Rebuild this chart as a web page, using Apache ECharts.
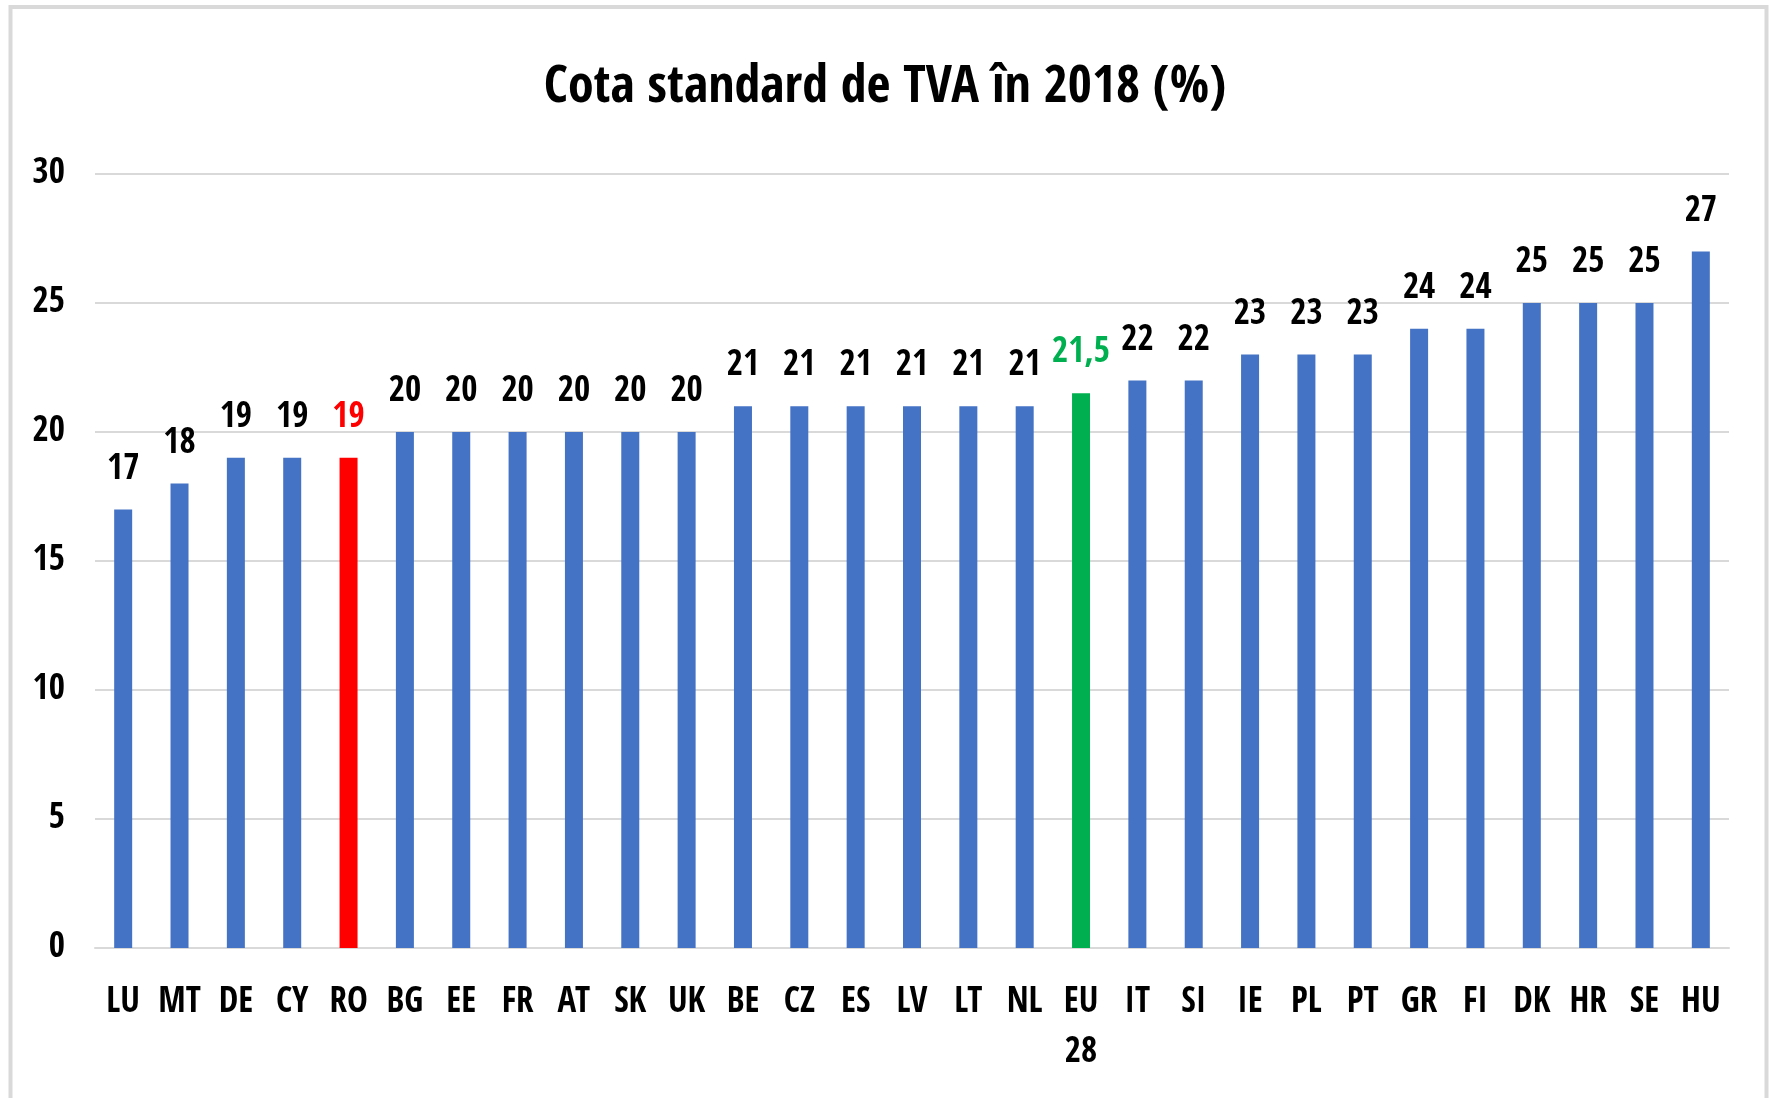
<!DOCTYPE html>
<html>
<head>
<meta charset="utf-8">
<script src="https://cdn.jsdelivr.net/npm/echarts@6/dist/echarts.min.js"></script>
<style>
  html, body { margin: 0; padding: 0; background: #ffffff; }
  #chart { width: 1770px; height: 1098px; }
</style>
</head>
<body>
<div id="chart"></div>
<script>
// ---- Data ----
const titleText = 'Cota standard de TVA în 2018 (%)';
const categories = ['LU','MT','DE','CY','RO','BG','EE','FR','AT','SK','UK','BE','CZ','ES','LV','LT','NL','EU 28','IT','SI','IE','PL','PT','GR','FI','DK','HR','SE','HU'];
const vatRates  = [17, 18, 19, 19, 19, 20, 20, 20, 20, 20, 20, 21, 21, 21, 21, 21, 21, 21.5, 22, 22, 23, 23, 23, 24, 24, 25, 25, 25, 27];
const yTicks = [0, 5, 10, 15, 20, 25, 30];

// ---- Styles ----
const FONT = '"Open Sans Condensed", Carlito, Lato, sans-serif';
const baseColor = '#4472C4';
const highlightColors = { 'RO': '#FF0000', 'EU 28': '#00B050' };
const labelHighlight = { 'RO': '#FF0000', 'EU 28': '#00B050' };

const seriesData = vatRates.map((v, i) => {
  const cat = categories[i];
  return {
    value: v,
    itemStyle: { color: highlightColors[cat] || baseColor },
    label: { color: labelHighlight[cat] || '#000000' }
  };
});

const chart = echarts.init(document.getElementById('chart'), null, { renderer: 'canvas' });
chart.setOption({
  backgroundColor: '#ffffff',
  animation: false,
  graphic: [{
    type: 'rect',
    z: -10,
    silent: true,
    shape: { x: 10.5, y: 7, width: 1756, height: 1110 },
    style: { fill: '#ffffff', stroke: '#d9d9d9', lineWidth: 4 }
  }],
  title: {
    text: titleText,
    left: 'center',
    top: 53,
    textStyle: { fontFamily: FONT, fontSize: 52, fontWeight: 'bold', color: '#000000', lineHeight: 60 }
  },
  grid: { left: 95, right: 41, top: 174, bottom: 150, containLabel: false },
  xAxis: {
    type: 'category',
    data: categories,
    axisLine: { show: true, lineStyle: { color: '#d9d9d9', width: 2 } },
    axisTick: { show: false },
    axisLabel: {
      interval: 0,
      margin: 30,
      fontFamily: FONT, fontSize: 35, fontWeight: 'bold', color: '#000000',
      lineHeight: 50,
      formatter: (v) => v.replace(' ', '\n')
    }
  },
  yAxis: {
    type: 'value',
    min: yTicks[0],
    max: yTicks[yTicks.length - 1],
    interval: yTicks[1] - yTicks[0],
    axisLine: { show: false },
    axisTick: { show: false },
    splitLine: { lineStyle: { color: '#d9d9d9', width: 2 } },
    axisLabel: { margin: 30, padding: [6, 0, 0, 0], fontFamily: FONT, fontSize: 35, fontWeight: 'bold', color: '#000000' }
  },
  series: [{
    type: 'bar',
    data: seriesData,
    barWidth: 18,
    label: {
      show: true,
      position: 'top',
      distance: 22,
      fontFamily: FONT, fontSize: 35, fontWeight: 'bold', lineHeight: 36,
      formatter: (p) => String(p.value).replace('.', ',')
    }
  }]
});
</script>
</body>
</html>
